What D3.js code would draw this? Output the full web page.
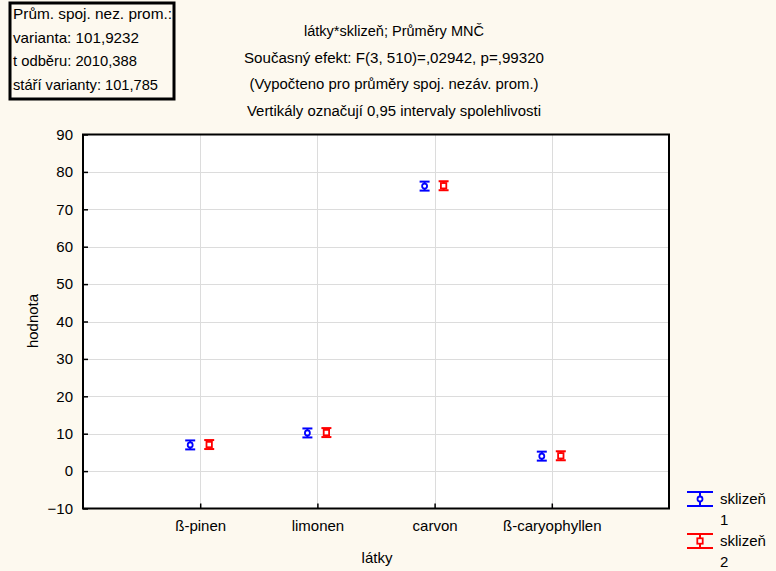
<!DOCTYPE html>
<html>
<head>
<meta charset="utf-8">
<script src="https://cdn.jsdelivr.net/npm/d3@7"></script>
<style>
  html, body { margin: 0; padding: 0; background: #fdf9ef; }
  svg { display: block; font-family: "Liberation Sans", Arial, sans-serif; }
</style>
</head>
<body>
<svg id="chart" width="776" height="571"></svg>
<script>
// Substances (x categories) and harvest groups
const categories = ["ß-pinen", "limonen", "carvon", "ß-caryophyllen"];
const seriesNames = ["sklizeň 1", "sklizeň 2"];
// Least-squares means per harvest
const means1 = [7.0, 10.2, 76.2, 4.0];
const means2 = [7.1, 10.3, 76.3, 4.1];
// Half-width of the 0.95 confidence interval
const ci1 = [1.2, 1.2, 1.2, 1.2];
const ci2 = [1.2, 1.2, 1.2, 1.2];
const yTicks = [-10, 0, 10, 20, 30, 40, 50, 60, 70, 80, 90];
const titleLines = [
  "látky*sklizeň; Průměry MNČ",
  "Současný efekt: F(3, 510)=,02942, p=,99320",
  "(Vypočteno pro průměry spoj. nezáv. prom.)",
  "Vertikály označují 0,95 intervaly spolehlivosti"
];
const infoLines = [
  "Prům. spoj. nez. prom.:",
  "varianta: 101,9232",
  "t odběru: 2010,388",
  "stáří varianty: 101,785"
];
const colors = ["#0000ff", "#ff0000"];

const FS = 15;
const svg = d3.select("#chart");
const W = 776, H = 571;
const plot = { left: 83, top: 134.5, right: 669, bottom: 508.5 };

svg.append("rect").attr("width", W).attr("height", H).attr("fill", "#fdf9ef");

const x = d3.scalePoint().domain(categories).range([plot.left, plot.right]).padding(1);
const y = d3.scaleLinear().domain([-10, 90]).range([plot.bottom, plot.top]);

// Plot area
svg.append("rect")
  .attr("x", plot.left).attr("y", plot.top)
  .attr("width", plot.right - plot.left).attr("height", plot.bottom - plot.top)
  .attr("fill", "#ffffff");

// Grid lines
const grid = svg.append("g").attr("stroke", "#dcdcdc").attr("stroke-width", 1);
grid.selectAll("line.h").data(yTicks.filter(t => t > -10 && t < 90)).join("line")
  .attr("x1", plot.left).attr("x2", plot.right)
  .attr("y1", d => Math.round(y(d)) + 0.5).attr("y2", d => Math.round(y(d)) + 0.5);
grid.selectAll("line.v").data(categories).join("line")
  .attr("y1", plot.top).attr("y2", plot.bottom)
  .attr("x1", d => Math.round(x(d)) + 0.5)
  .attr("x2", d => Math.round(x(d)) + 0.5);

// Axes (ticks point inward)
const yAxis = d3.axisLeft(y).tickValues(yTicks).tickSizeInner(-5).tickSizeOuter(0).tickPadding(10);
const gy = svg.append("g").attr("transform", `translate(${plot.left},0)`).call(yAxis);
const xAxis = d3.axisBottom(x).tickSizeInner(-5).tickSizeOuter(0).tickPadding(12);
const gx = svg.append("g").attr("transform", `translate(0,${plot.bottom})`).call(xAxis);
[gx, gy].forEach(g => {
  g.select(".domain").remove();
  g.selectAll(".tick line").attr("stroke", "#000").attr("stroke-width", 1.5);
  g.selectAll(".tick text").attr("fill", "#000").attr("font-size", FS)
    .attr("font-family", "Liberation Sans, Arial, sans-serif");
});

// Frame
svg.append("rect")
  .attr("x", plot.left).attr("y", plot.top)
  .attr("width", plot.right - plot.left).attr("height", plot.bottom - plot.top)
  .attr("fill", "none").attr("stroke", "#000").attr("stroke-width", 2);

// Error bars with markers
const offsets = [-10, 9];
const capW = 5;
function drawMarker(g, type, cx, cy, color) {
  if (type === 0) {
    g.append("circle").attr("cx", cx).attr("cy", cy).attr("r", 2.5)
      .attr("fill", "#fff").attr("stroke", color).attr("stroke-width", 1.8);
  } else {
    g.append("rect").attr("x", cx - 2.7).attr("y", cy - 2.7).attr("width", 5.4).attr("height", 5.4)
      .attr("fill", "#fff").attr("stroke", color).attr("stroke-width", 1.8);
  }
}
const seriesData = [
  { means: means1, ci: ci1 },
  { means: means2, ci: ci2 }
];
seriesData.forEach((s, si) => {
  const g = svg.append("g").attr("stroke", colors[si]).attr("fill", "none");
  categories.forEach((c, i) => {
    const cx = x(c) + offsets[si];
    const lo = y(s.means[i] - s.ci[i]);
    const hi = y(s.means[i] + s.ci[i]);
    g.append("line").attr("x1", cx).attr("x2", cx).attr("y1", hi).attr("y2", lo).attr("stroke-width", 2);
    g.append("line").attr("x1", cx - capW).attr("x2", cx + capW).attr("y1", hi).attr("y2", hi).attr("stroke-width", 2);
    g.append("line").attr("x1", cx - capW).attr("x2", cx + capW).attr("y1", lo).attr("y2", lo).attr("stroke-width", 2);
    drawMarker(g, si, cx, y(s.means[i]), colors[si]);
  });
});

// Titles
svg.append("g").selectAll("text").data(titleLines).join("text")
  .attr("x", 394).attr("y", (d, i) => 36 + i * 26.5)
  .attr("text-anchor", "middle").attr("font-size", FS - 1).attr("fill", "#000")
  .attr("textLength", (d, i) => [180, 300, 289, 294][i]).attr("lengthAdjust", "spacingAndGlyphs")
  .text(d => d);

// Info box
svg.append("rect").attr("x", 10).attr("y", 3).attr("width", 164).attr("height", 96)
  .attr("fill", "#fdf9ef").attr("stroke", "#000").attr("stroke-width", 3);
svg.append("g").selectAll("text").data(infoLines).join("text")
  .attr("x", 13).attr("y", (d, i) => 19 + i * 23.5)
  .attr("font-size", FS).attr("fill", "#000")
  .attr("textLength", (d, i) => [159, 126, 124, 145][i]).attr("lengthAdjust", "spacingAndGlyphs")
  .text(d => d);

// Axis titles
svg.append("text").attr("x", 377).attr("y", 563).attr("text-anchor", "middle")
  .attr("font-size", FS).attr("fill", "#000").text("látky");
svg.append("text").attr("transform", "translate(38,321) rotate(-90)").attr("text-anchor", "middle")
  .attr("font-size", FS).attr("fill", "#000").text("hodnota");

// Legend
const legend = svg.append("g");
seriesNames.forEach((name, si) => {
  const cy = 499 + si * 42;
  const cx = 700;
  const g = legend.append("g").attr("stroke", colors[si]).attr("fill", "none");
  g.append("line").attr("x1", 687).attr("x2", 713).attr("y1", cy - 7).attr("y2", cy - 7).attr("stroke-width", 2);
  g.append("line").attr("x1", 687).attr("x2", 713).attr("y1", cy + 7).attr("y2", cy + 7).attr("stroke-width", 2);
  g.append("line").attr("x1", cx).attr("x2", cx).attr("y1", cy - 7).attr("y2", cy + 7).attr("stroke-width", 2);
  drawMarker(g, si, cx, cy, colors[si]);
  const parts = name.split(" ");
  legend.append("text").attr("x", 720).attr("y", cy + 5).attr("font-size", FS).attr("fill", "#000").text(parts[0]);
  legend.append("text").attr("x", 720).attr("y", cy + 26).attr("font-size", FS).attr("fill", "#000").text(parts[1]);
});
</script>
</body>
</html>
